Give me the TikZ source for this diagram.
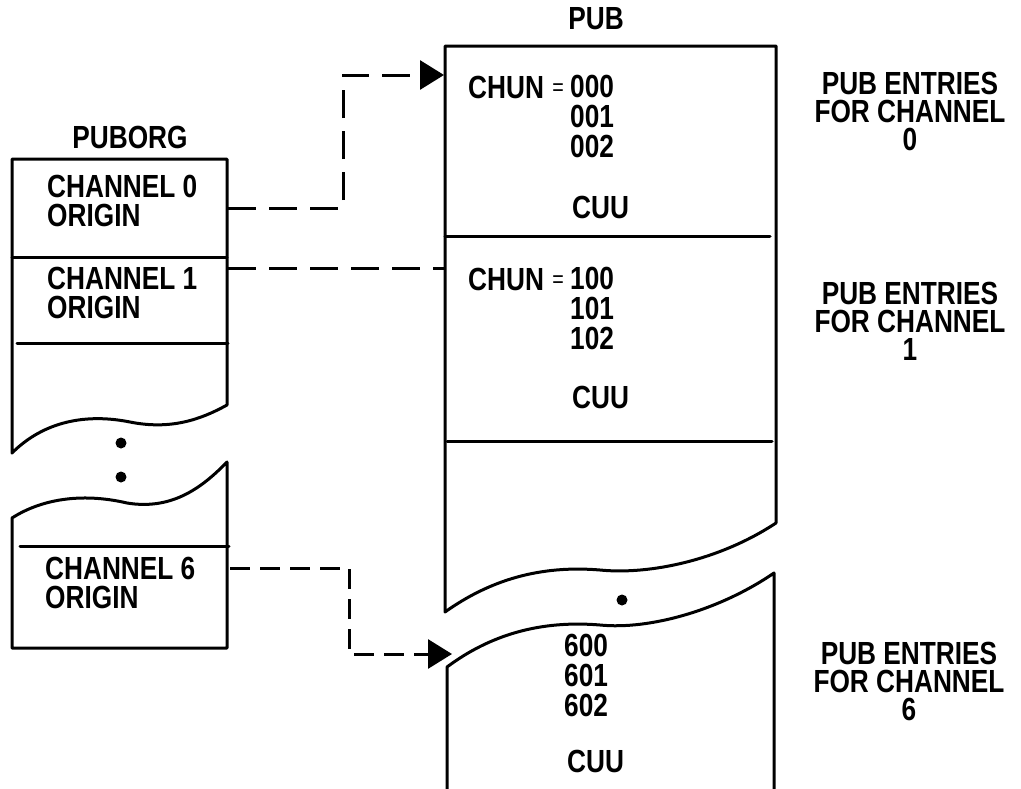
\documentclass[tikz,border=0pt]{standalone}
\usepackage{fontspec}
\setmainfont{Liberation Sans}[FakeStretch=0.82]
\usetikzlibrary{arrows.meta}
\begin{document}
\begin{tikzpicture}[x=1pt,y=-1pt,
  outline/.style={line width=3pt, line join=round, line cap=round},
  lbl/.style={inner sep=0pt, font=\fontsize{32}{29}\selectfont\bfseries},
  lblc/.style={lbl, align=center, anchor=north, font=\fontsize{32}{28}\selectfont\bfseries},
  lbll/.style={lbl, align=left, anchor=north west},
  numl/.style={lbl, align=left, anchor=north west, font=\fontsize{32}{30}\selectfont\bfseries},
  eqs/.style={inner sep=0pt, font=\fontsize{24}{24}\selectfont},
  longdash/.style={line width=3pt, dash pattern=on 28pt off 13pt},
  shortdash/.style={line width=3pt, dash pattern=on 20pt off 10pt},
  tip/.style={-{Triangle[length=24pt,width=29pt]}},
  dotmark/.style={fill=black, draw=none}]
\useasboundingbox (0,0) rectangle (1021,788);

% ---------- PUBORG ----------
\node[lbl, anchor=base] (puborgt) at (130,148) {PUBORG};
\draw[outline] (12,453) -- (12,159) -- (227,159) -- (227,405)
  .. controls (200,420) and (170,430) .. (130,422)
  .. controls (80,412) and (40,425) .. (12,453);
\draw[outline] (12,257) -- (227,257);
\draw[outline] (17,343) -- (228,343);
\node[lbll] (ch0) at (47,175) {CHANNEL 0\\ORIGIN};
\node[lbll] (ch1) at (47,267) {CHANNEL 1\\ORIGIN};
\fill[dotmark] (121,443) circle (5.5);
\fill[dotmark] (121,477) circle (5.5);
\draw[outline] (12,518)
  .. controls (40,500) and (80,492) .. (127,503)
  .. controls (170,510) and (200,490) .. (227,462)
  -- (227,648) -- (12,648) -- cycle;
\draw[outline] (20,546) -- (229,546);
\node[lbll] (ch6) at (45,557) {CHANNEL 6\\ORIGIN};

% ---------- PUB ----------
\node[lbl, anchor=base] (pubt) at (596,29) {PUB};
\draw[outline] (445,612) -- (445,46) -- (776,46) -- (776,523)
  .. controls (720,560) and (650,575) .. (600,570)
  .. controls (540,565) and (490,580) .. (445,612);
\draw[outline] (445,236) -- (770,236);
\draw[outline] (447,441) -- (772,441);
\fill[dotmark] (622,600) circle (5.5);
\draw[outline] (447,790) -- (447,667)
  .. controls (490,635) and (540,620) .. (600,625)
  .. controls (650,630) and (720,610) .. (774,573) -- (774,790);

% block 0
\node[lbl, anchor=base west] (chun0) at (468,98) {CHUN};
\node[eqs] (eq0) at (558,90) {=};
\node[numl] (num0) at (570,75) {000\\001\\002};
\node[lbl, anchor=base west] (cuu0) at (572,218) {CUU};
% block 1
\node[lbl, anchor=base west] (chun1) at (468,290) {CHUN};
\node[eqs] (eq1) at (558,282) {=};
\node[numl] (num1) at (570,267) {100\\101\\102};
\node[lbl, anchor=base west] (cuu1) at (572,408) {CUU};
% block 6
\node[numl] (num6) at (564,634) {600\\601\\602};
\node[lbl, anchor=base west] (cuu6) at (567,772) {CUU};

% ---------- right labels ----------
\node[lblc] (r0) at (910,72) {PUB ENTRIES\\FOR CHANNEL\\0};
\node[lblc] (r1) at (910,282) {PUB ENTRIES\\FOR CHANNEL\\1};
\node[lblc] (r6) at (909,642) {PUB ENTRIES\\FOR CHANNEL\\6};

% ---------- connectors ----------
\coordinate (s0) at (228,208);
\coordinate (k0) at (343,208);
\coordinate (e0) at (444,75);
\coordinate (s1) at (228,268);
\coordinate (e1) at (446,268);
\coordinate (s6) at (230,568);
\coordinate (k6) at (349,568);
\coordinate (e6) at (452,654);
\draw[longdash, tip] (s0) -- (k0) |- (e0);
\draw[longdash] (s1) -- (e1);
\draw[shortdash, tip] (s6) -- (k6) |- (e6);
\end{tikzpicture}
\end{document}
